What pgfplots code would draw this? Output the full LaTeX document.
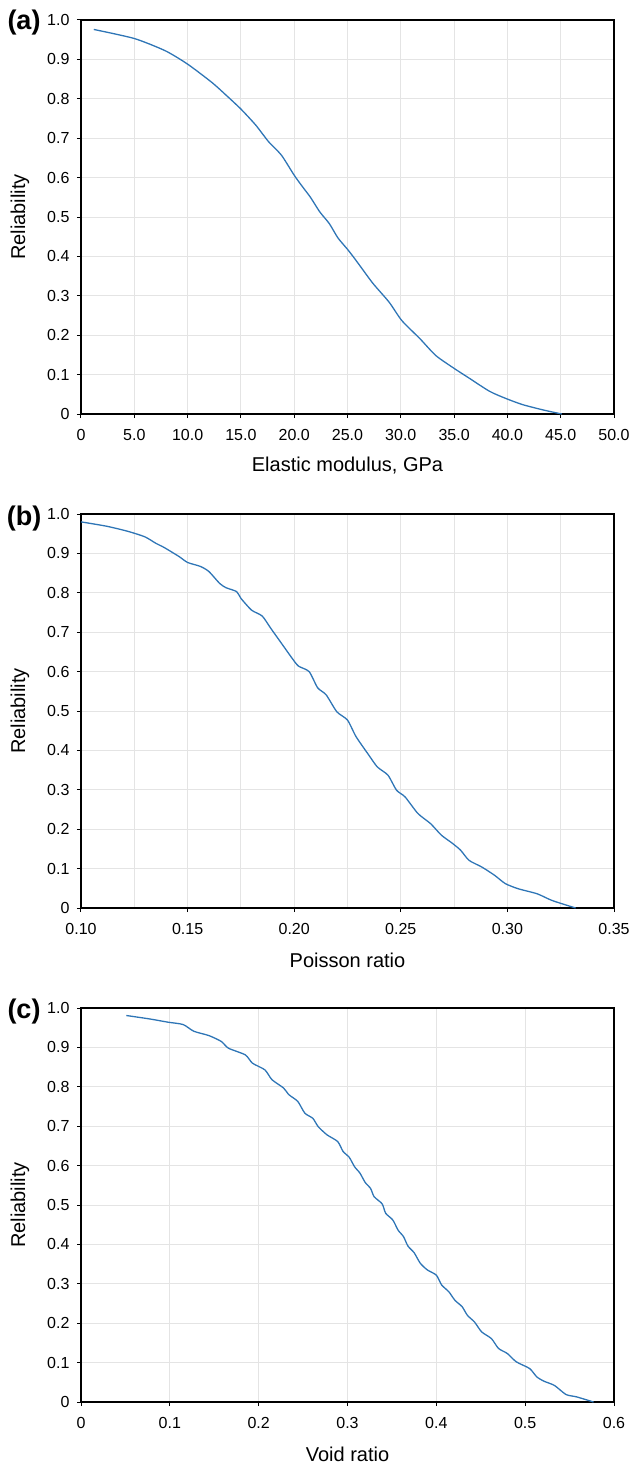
\documentclass[border=0pt]{standalone}
\usepackage{fontspec}
\setmainfont{Liberation Sans}
\usepackage{pgfplots}
\pgfplotsset{compat=1.18}
\definecolor{curve}{RGB}{46,117,182}
\definecolor{gridc}{RGB}{228,228,228}
\pgfplotsset{rel/.style={
  scale only axis, width=533pt, height=394pt,
  anchor=north west,
  ymin=0, ymax=1,
  ytick={0,0.1,0.2,0.3,0.4,0.5,0.6,0.7,0.8,0.9,1},
  yticklabels={0,0.1,0.2,0.3,0.4,0.5,0.6,0.7,0.8,0.9,1.0},
  tick pos=left, tick align=outside, major tick length=4pt, minor tick length=0pt,
  grid=major, major grid style={gridc, line width=1pt}, minor grid style={gridc, line width=1pt},
  axis line style={line width=1.2pt},
  every tick/.style={black, line width=1pt},
  tick label style={font=\fontsize{16}{19}\selectfont},
  yticklabel style={xshift=-4pt},
  xticklabel style={yshift=-8pt},
  label style={font=\fontsize{20}{24}\selectfont},
  xlabel style={at={(axis description cs:0.5,-0.132)}, anchor=center},
  ylabel style={at={(axis description cs:-0.1144,0.5)}, anchor=center},
  ylabel={Reliability},
}}
\tikzset{plab/.style={font=\bfseries\fontsize{27}{30}\selectfont, anchor=center}}
\begin{document}
\begin{tikzpicture}
\useasboundingbox (0,0) rectangle (632pt,-1466pt);
% (a)
\begin{axis}[rel, name=A, at={(81pt,-20pt)},
  xmin=0, xmax=50,
  xtick={0,5,10,15,20,25,30,35,40,45,50},
  xticklabels={0,5.0,10.0,15.0,20.0,25.0,30.0,35.0,40.0,45.0,50.0},
  xlabel={Elastic modulus, GPa}]
\addplot[curve, line width=1.3pt, smooth, tension=0.4] coordinates {
(1.2,0.976) (5,0.953) (7.9,0.922) (10,0.888) (12.3,0.841) (13.7,0.807)
(15,0.774) (16.4,0.733) (17.6,0.691) (18.8,0.657) (20,0.606) (20.8,0.576)
(21.5,0.551) (22.4,0.513) (23.3,0.483) (24.1,0.447) (25,0.418) (25.6,0.397)
(26.2,0.375) (27.4,0.331) (28.9,0.284) (30.1,0.237) (31.8,0.191) (33.3,0.148)
(35.1,0.114) (36.3,0.093) (38.3,0.058) (39.8,0.040) (41.4,0.024) (43.4,0.010)
(45.1,0.0)};
\end{axis}
\node[plab] at ([xshift=-57pt,yshift=-3pt]A.north west) {(a)};
% (b)
\begin{axis}[rel, name=B, at={(81pt,-514pt)},
  xmin=0.10, xmax=0.35,
  xtick={0.10,0.15,0.20,0.25,0.30,0.35},
  xticklabels={0.10,0.15,0.20,0.25,0.30,0.35},
  minor xtick={0.125,0.175,0.225,0.275,0.325},
  xminorgrids=true,
  xlabel={Poisson ratio}]
\addplot[curve, line width=1.3pt, smooth, tension=0.4] coordinates {
(0.100,0.980) (0.112,0.969) (0.122,0.956) (0.130,0.942) (0.135,0.926) (0.139,0.915)
(0.146,0.892) (0.150,0.877) (0.156,0.867) (0.160,0.854) (0.165,0.824) (0.168,0.813)
(0.173,0.803) (0.175,0.786) (0.180,0.756) (0.185,0.741) (0.189,0.710) (0.194,0.672)
(0.199,0.634) (0.202,0.614) (0.207,0.600) (0.211,0.559) (0.215,0.541) (0.220,0.498)
(0.225,0.477) (0.229,0.435) (0.235,0.388) (0.239,0.358) (0.244,0.337) (0.248,0.299)
(0.252,0.282) (0.258,0.240) (0.264,0.214) (0.269,0.185) (0.274,0.165) (0.278,0.147)
(0.282,0.121) (0.288,0.104) (0.294,0.083) (0.299,0.062) (0.305,0.049) (0.314,0.036)
(0.321,0.019) (0.332,0.0)};
\end{axis}
\node[plab] at ([xshift=-57pt,yshift=-5pt]B.north west) {(b)};
% (c)
\begin{axis}[rel, name=C, at={(81pt,-1008pt)},
  xmin=0, xmax=0.6,
  xtick={0,0.1,0.2,0.3,0.4,0.5,0.6},
  xticklabels={0,0.1,0.2,0.3,0.4,0.5,0.6},
  xlabel={Void ratio}]
\addplot[curve, line width=1.3pt, smooth, tension=0.4] coordinates {
(0.051,0.981) (0.078,0.972) (0.098,0.964) (0.115,0.958) (0.127,0.941) (0.144,0.930)
(0.158,0.915) (0.166,0.898) (0.185,0.881) (0.193,0.860) (0.207,0.843) (0.215,0.818)
(0.228,0.797) (0.234,0.780) (0.244,0.763) (0.252,0.733) (0.261,0.720) (0.267,0.699)
(0.277,0.678) (0.289,0.661) (0.295,0.636) (0.302,0.621) (0.308,0.597) (0.314,0.581)
(0.320,0.557) (0.326,0.542) (0.330,0.521) (0.339,0.503) (0.343,0.479) (0.351,0.462)
(0.357,0.436) (0.363,0.420) (0.368,0.396) (0.375,0.379) (0.382,0.352) (0.390,0.335)
(0.400,0.322) (0.406,0.297) (0.414,0.280) (0.421,0.258) (0.429,0.242) (0.435,0.220)
(0.443,0.203) (0.451,0.178) (0.462,0.161) (0.470,0.136) (0.480,0.123) (0.490,0.102)
(0.505,0.085) (0.513,0.064) (0.521,0.053) (0.533,0.042) (0.546,0.019) (0.558,0.013)
(0.577,0.0)};
\end{axis}
\node[plab] at ([xshift=-57pt,yshift=-4pt]C.north west) {(c)};
\end{tikzpicture}
\end{document}
